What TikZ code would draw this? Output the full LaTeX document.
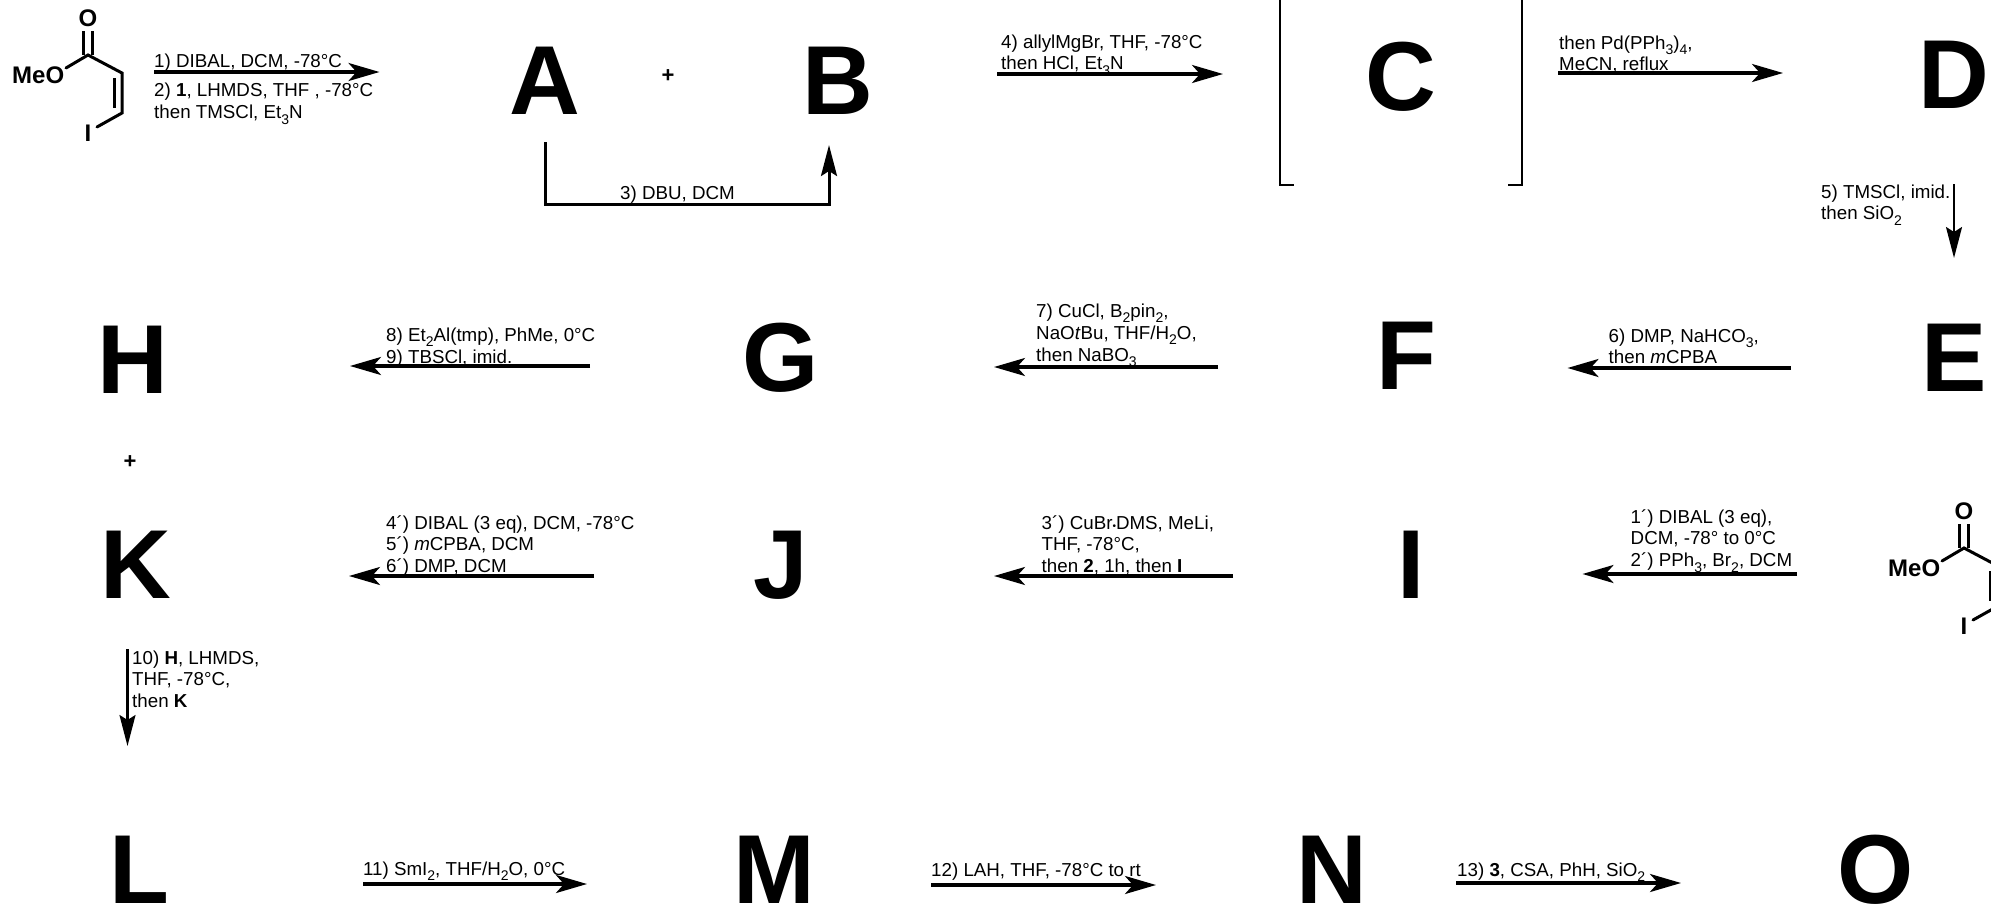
\documentclass[tikz,border=0pt]{standalone}
\usepackage{fontspec}
\setmainfont{Liberation Sans}
\usetikzlibrary{arrows.meta}
\newcommand\sbs[1]{\raisebox{-.28em}{\fontsize{14}{14}\selectfont #1}}
\newcommand\rlines[1]{\vtop{\baselineskip=21.9pt\lineskiplimit=-50pt\lineskip=0pt #1}}
\tikzset{
  letter/.style={anchor=base west,inner sep=0pt,font=\fontsize{98}{98}\selectfont\bfseries},
  plussign/.style={inner sep=0pt,font=\fontsize{22}{22}\selectfont\bfseries},
  reagent/.style={anchor=base west,inner sep=0pt,font=\fontsize{18.75}{21.9}\selectfont},
  atomlabel/.style={anchor=base,inner sep=0pt,font=\fontsize{24}{24}\selectfont\bfseries},
  rxnarrow/.style={line width=3.2pt,-{Stealth[length=31pt,width=18pt,inset=8pt]}},
  thinarrow/.style={line width=2.2pt,-{Stealth[length=31pt,width=16pt,inset=5pt]}},
  routearrow/.style={line width=3pt,line join=miter,-{Stealth[length=31pt,width=16pt,inset=5pt]}},
  bond/.style={line width=3pt},
  bracketline/.style={line width=2.8pt},
}
\newcommand\molecule[2]{%
  \begin{scope}[shift={(#2)}]
    \node[atomlabel] (#1O) at (88,26.5) {O};
    \node[atomlabel,anchor=base west] (#1MeO) at (12,83) {MeO};
    \node[atomlabel] (#1I) at (88,141) {I};
    \coordinate (#1c1) at (88,55);
    \coordinate (#1c2) at (122,73);
    \coordinate (#1c3) at (122,113);
    \draw[bond] (83.5,31) -- (83.5,55);
    \draw[bond] (92.5,31) -- (92.5,55);
    \draw[bond,line cap=round] (66,68) -- (#1c1) -- (#1c2) -- (#1c3) -- (97,127);
    \draw[bond] (114,78) -- (114,108);
  \end{scope}}
\begin{document}
\begin{tikzpicture}[x=1pt,y=-1pt]
\clip (0,0) rectangle (1991,905);
% letters
\node[letter] (A) at (509.5,114.5) {A};
\node[letter] (B) at (802,114) {B};
\node[letter] (C) at (1365,110.5) {C};
\node[letter] (D) at (1918,108) {D};
\node[letter] (E) at (1921,391) {E};
\node[letter] (F) at (1376,389) {F};
\node[letter] (G) at (742,391) {G};
\node[letter] (H) at (97,393) {H};
\node[letter] (I) at (1397,598) {I};
\node[letter] (J) at (753,598) {J};
\node[letter] (K) at (100,598) {K};
\node[letter] (L) at (109,903) {L};
\node[letter] (M) at (733,903) {M};
\node[letter] (N) at (1296.5,903) {N};
\node[letter] (O) at (1837,903) {O};
\node[plussign] (p1) at (668,76) {+};
\node[plussign] (p2) at (130,462) {+};
% molecules
\molecule{ma}{0,0}
\molecule{mb}{1876,493}
% reagent text
\node[reagent] (t1) at (154,67.5) {\rlines{\hbox{1) DIBAL, DCM, -78°C}\vskip 7.5pt\hbox{2) \textbf{1}, LHMDS, THF , -78°C}\hbox{then TMSCl, Et\sbs{3}N}}};
\node[reagent] (t3) at (620,199) {3) DBU, DCM};
\node[reagent] (t4) at (1001,48) {\rlines{\hbox{4) allylMgBr, THF, -78°C}\hbox{then HCl, Et\sbs{3}N}}};
\node[reagent] (t4b) at (1559,49) {\rlines{\hbox{then Pd(PPh\sbs{3})\sbs{4},}\hbox{MeCN, reflux}}};
\node[reagent] (t5) at (1821,198) {\rlines{\hbox{5) TMSCl, imid.}\hbox{then SiO\sbs{2}}}};
\node[reagent] (t6) at (1608.5,342) {\rlines{\hbox{6) DMP, NaHCO\sbs{3},}\hbox{then \textit{m}CPBA}}};
\node[reagent] (t7) at (1036,317.5) {\rlines{\hbox{7) CuCl, B\sbs{2}pin\sbs{2},}\hbox{NaO\textit{t}Bu, THF/H\sbs{2}O,}\hbox{then NaBO\sbs{3}}}};
\node[reagent] (t8) at (386,341.5) {\rlines{\hbox{8) Et\sbs{2}Al(tmp), PhMe, 0°C}\hbox{9) TBSCl, imid.}}};
\node[reagent] (t1p) at (1630.5,523) {\rlines{\hbox{1´) DIBAL (3 eq),}\hbox{DCM, -78° to 0°C}\hbox{2´) PPh\sbs{3}, Br\sbs{2}, DCM}}};
\node[reagent] (t3p) at (1041.5,529) {\rlines{\hbox{3´) CuBr{\fontsize{10}{10}\selectfont •}DMS, MeLi,}\hbox{THF, -78°C,}\hbox{then \textbf{2}, 1h, then \textbf{I}}}};
\node[reagent] (t4p) at (386,529) {\rlines{\hbox{4´) DIBAL (3 eq), DCM, -78°C}\hbox{5´) \textit{m}CPBA, DCM}\hbox{6´) DMP, DCM}}};
\node[reagent] (t10) at (132,664) {\rlines{\hbox{10) \textbf{H}, LHMDS,}\hbox{THF, -78°C,}\hbox{then \textbf{K}}}};
\node[reagent] (t11) at (363,875) {11) SmI\sbs{2}, THF/H\sbs{2}O, 0°C};
\node[reagent] (t12) at (931,876) {12) LAH, THF, -78°C to rt};
\node[reagent] (t13) at (1457,876) {13) \textbf{3}, CSA, PhH, SiO\sbs{2}};
% arrow ends
\coordinate (a1s) at (154,72);    \coordinate (a1e) at (379.5,72);
\coordinate (a3s) at (545.5,142); \coordinate (a3c) at (545.5,204);
\coordinate (a3d) at (829,204);   \coordinate (a3e) at (829,145);
\coordinate (a4s) at (997,74);    \coordinate (a4e) at (1223,74);
\coordinate (a4bs) at (1558,73);  \coordinate (a4be) at (1783,73);
\coordinate (a5s) at (1954,184);  \coordinate (a5e) at (1954,258);
\coordinate (a6s) at (1791,368);  \coordinate (a6e) at (1567.5,368);
\coordinate (a7s) at (1218,367);  \coordinate (a7e) at (994,367);
\coordinate (a8s) at (590,366);   \coordinate (a8e) at (350,366);
\coordinate (a1ps) at (1797,574); \coordinate (a1pe) at (1582.5,574);
\coordinate (a3ps) at (1233,576); \coordinate (a3pe) at (994,576);
\coordinate (a4ps) at (594,576);  \coordinate (a4pe) at (349,576);
\coordinate (a10s) at (127.5,649);\coordinate (a10e) at (127.5,746);
\coordinate (a11s) at (363,884);  \coordinate (a11e) at (587,884);
\coordinate (a12s) at (931,885);  \coordinate (a12e) at (1156,885);
\coordinate (a13s) at (1456,883); \coordinate (a13e) at (1681,883);
\draw[rxnarrow] (a1s) -- (a1e);
\draw[routearrow] (a3s) -- (a3c) -- (a3d) -- (a3e);
\draw[rxnarrow] (a4s) -- (a4e);
\draw[rxnarrow] (a4bs) -- (a4be);
\draw[thinarrow] (a5s) -- (a5e);
\draw[rxnarrow] (a6s) -- (a6e);
\draw[rxnarrow] (a7s) -- (a7e);
\draw[rxnarrow] (a8s) -- (a8e);
\draw[rxnarrow] (a1ps) -- (a1pe);
\draw[rxnarrow] (a3ps) -- (a3pe);
\draw[rxnarrow] (a4ps) -- (a4pe);
\draw[thinarrow] (a10s) -- (a10e);
\draw[rxnarrow] (a11s) -- (a11e);
\draw[rxnarrow] (a12s) -- (a12e);
\draw[rxnarrow] (a13s) -- (a13e);
% brackets of C
\coordinate (bl0) at (1280,-5); \coordinate (bl1) at (1280,185); \coordinate (bl2) at (1294,185);
\coordinate (br0) at (1522,-5); \coordinate (br1) at (1522,185); \coordinate (br2) at (1508,185);
\draw[bracketline] (bl0) -- (bl1) -- (bl2);
\draw[bracketline] (br0) -- (br1) -- (br2);
\end{tikzpicture}
\end{document}
